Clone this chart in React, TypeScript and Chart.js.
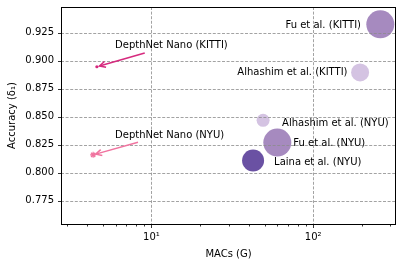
import React, { useEffect, useRef } from 'react';
import { Chart, registerables } from 'chart.js';

Chart.register(...registerables);

// ---- data ----
const modelLabels = ['Fu et al. (KITTI)', 'Alhashim et al. (KITTI)', 'Alhashim et al. (NYU)', 'Fu et al. (NYU)', 'Laina et al. (NYU)'];
const modelMacs = [260, 195, 49, 60, 42.5];
const modelAcc = [0.9325, 0.8895, 0.8467, 0.8268, 0.8107];
const modelSize = [14, 9, 6.5, 14, 11];
const modelColors = ['#a68abf', '#d4c3e2', '#d4c3e2', '#a68abf', '#6a51a3'];

const nanoLabels = ['DepthNet Nano (KITTI)', 'DepthNet Nano (NYU)'];
const nanoMacs = [4.6, 4.36];
const nanoAcc = [0.8946, 0.8158];
const nanoArrowFromMacs = [9.09, 8.26];
const nanoArrowFromAcc = [0.9068, 0.827];
const nanoTextMacs = [5.955, 5.955];
const nanoTextAcc = [0.9137, 0.8331];
const nanoColors = ['#d62a7e', '#f0739f'];

const xMajorTicks = [10, 100];
const xMinorTicks = [3, 4, 5, 6, 7, 8, 9, 20, 30, 40, 50, 60, 70, 80, 90, 200, 300];
const xTickLabels: Record<number, string> = { 10: '10\u00b9', 100: '10\u00b2' };
const yTicks = [0.775, 0.8, 0.825, 0.85, 0.875, 0.9, 0.925];

// label placement (pixels relative to point)
const labelAlign: CanvasTextAlign[] = ['right', 'right', 'left', 'left', 'left'];
const labelDx = [-19.3, -12.6, 19, 16, 21];
const labelDy = [1, 0.3, 3, 1, 2];

const FONT = '10px "DejaVu Sans"';

const overlay = {
  id: 'overlay',
  afterDatasetsDraw(chart: any) {
    const { ctx, chartArea, scales } = chart;
    const { left, right, top, bottom } = chartArea;
    const x = scales.x;
    const y = scales.y;
    ctx.save();
    // grid (drawn over markers like matplotlib)
    ctx.strokeStyle = '#8c8c8c';
    ctx.lineWidth = 0.8;
    ctx.setLineDash([3, 1.6]);
    xMajorTicks.forEach((v) => {
      const px = Math.round(x.getPixelForValue(v)) + 0.5;
      ctx.beginPath();
      ctx.moveTo(px, top);
      ctx.lineTo(px, bottom);
      ctx.stroke();
    });
    yTicks.forEach((v) => {
      const py = Math.round(y.getPixelForValue(v)) + 0.5;
      ctx.beginPath();
      ctx.moveTo(left, py);
      ctx.lineTo(right, py);
      ctx.stroke();
    });
    ctx.setLineDash([]);

    // arrows
    nanoLabels.forEach((_, i) => {
      const x0 = x.getPixelForValue(nanoArrowFromMacs[i]);
      const y0 = y.getPixelForValue(nanoArrowFromAcc[i]);
      const px = x.getPixelForValue(nanoMacs[i]);
      const py = y.getPixelForValue(nanoAcc[i]);
      const ang = Math.atan2(py - y0, px - x0);
      const x1 = px - Math.cos(ang) * 2.7;
      const y1 = py - Math.sin(ang) * 2.7;
      ctx.strokeStyle = nanoColors[i];
      ctx.lineWidth = 1.5;
      ctx.beginPath();
      ctx.moveTo(x0, y0);
      ctx.lineTo(x1, y1);
      ctx.stroke();
      const hl = 6, hw = 3;
      const bx = x1 - Math.cos(ang) * hl;
      const by = y1 - Math.sin(ang) * hl;
      ctx.beginPath();
      ctx.moveTo(bx - Math.sin(ang) * hw, by + Math.cos(ang) * hw);
      ctx.lineTo(x1, y1);
      ctx.lineTo(bx + Math.sin(ang) * hw, by - Math.cos(ang) * hw);
      ctx.stroke();
    });

    // labels
    ctx.fillStyle = '#000';
    ctx.font = FONT;
    ctx.textBaseline = 'middle';
    modelLabels.forEach((t, i) => {
      ctx.textAlign = labelAlign[i];
      ctx.fillText(t, x.getPixelForValue(modelMacs[i]) + labelDx[i], y.getPixelForValue(modelAcc[i]) + labelDy[i]);
    });
    ctx.textAlign = 'left';
    nanoLabels.forEach((t, i) => {
      ctx.fillText(t, x.getPixelForValue(nanoTextMacs[i]), y.getPixelForValue(nanoTextAcc[i]));
    });

    // spines
    ctx.strokeStyle = '#000';
    ctx.lineWidth = 1;
    ctx.strokeRect(Math.round(left) + 0.5, Math.round(top) + 0.5, Math.round(right - left) - 1, Math.round(bottom - top));

    // ticks
    ctx.lineWidth = 0.8;
    const ab = Math.round(bottom) + 0.5;
    [...xMajorTicks, ...xMinorTicks].forEach((v) => {
      const px = Math.round(x.getPixelForValue(v)) + 0.5;
      const len = xMajorTicks.includes(v) ? 3.5 : 2;
      ctx.beginPath();
      ctx.moveTo(px, ab);
      ctx.lineTo(px, ab + len);
      ctx.stroke();
    });
    const al = Math.round(left) + 0.5;
    yTicks.forEach((v) => {
      const py = Math.round(y.getPixelForValue(v)) + 0.5;
      ctx.beginPath();
      ctx.moveTo(al, py);
      ctx.lineTo(al - 3.5, py);
      ctx.stroke();
    });

    // axis titles
    ctx.textAlign = 'center';
    ctx.textBaseline = 'middle';
    ctx.fillText('MACs (G)', (left + right) / 2, 254);
    ctx.save();
    ctx.translate(12.5, (top + bottom) / 2);
    ctx.rotate(-Math.PI / 2);
    ctx.fillText('Accuracy (\u03b4\u2081)', 0, 0);
    ctx.restore();
    ctx.restore();
  },
};

export default function App() {
  const ref = useRef<HTMLCanvasElement>(null);
  useEffect(() => {
    document.body.style.margin = '0';
    const datasets: any[] = modelLabels.map((l, i) => ({
      label: l,
      data: [{ x: modelMacs[i], y: modelAcc[i] }],
      pointRadius: modelSize[i],
      pointBackgroundColor: modelColors[i],
      pointBorderWidth: 0,
      pointBorderColor: modelColors[i],
    }));
    datasets.push({
      label: nanoLabels[0],
      data: [{ x: nanoMacs[0], y: nanoAcc[0] }],
      pointRadius: 1.6,
      pointStyle: 'circle',
      pointBackgroundColor: nanoColors[0],
      pointBorderColor: nanoColors[0],
      pointBorderWidth: 0,
    });
    datasets.push({
      label: nanoLabels[1],
      data: [{ x: nanoMacs[1], y: nanoAcc[1] }],
      pointRadius: 3,
      pointStyle: 'star',
      pointBackgroundColor: nanoColors[1],
      pointBorderColor: nanoColors[1],
      pointBorderWidth: 1.2,
    });
    const chart = new Chart(ref.current!, {
      type: 'scatter',
      data: { datasets },
      plugins: [overlay],
      options: {
        animation: false,
        responsive: false,
        devicePixelRatio: 1,
        layout: { autoPadding: false, padding: { top: 7, right: 6, left: 0, bottom: 0 } },
        plugins: { legend: { display: false }, tooltip: { enabled: false } },
        events: [],
        scales: {
          x: {
            type: 'logarithmic',
            min: 2.76,
            max: 325,
            grid: { display: false, drawTicks: false },
            border: { display: false },
            afterBuildTicks: (s: any) => {
              s.ticks = [...xMajorTicks, ...xMinorTicks].sort((a, b) => a - b).map((v) => ({ value: v }));
            },
            afterFit: (s: any) => {
              s.height = 42;
              s.paddingLeft = 0;
              s.paddingRight = 0;
            },
            ticks: {
              autoSkip: false,
              maxRotation: 0,
              minRotation: 0,
              padding: 7,
              color: '#000',
              font: { family: 'DejaVu Sans', size: 10 },
              callback: (v: any) => xTickLabels[v as number] ?? '',
            },
          },
          y: {
            min: 0.754,
            max: 0.948,
            grid: { display: false, drawTicks: false },
            border: { display: false },
            afterBuildTicks: (s: any) => {
              s.ticks = yTicks.map((v) => ({ value: v }));
            },
            afterFit: (s: any) => {
              s.width = 61;
              s.paddingTop = 0;
              s.paddingBottom = 0;
            },
            ticks: {
              padding: 7,
              color: '#000',
              font: { family: 'DejaVu Sans', size: 10 },
              callback: (v: any) => Number(v).toFixed(3),
            },
          },
        },
      } as any,
    });
    return () => chart.destroy();
  }, []);
  return (
    <div style={{ position: 'absolute', left: 0, top: 0, width: 402, height: 266 }}>
      <canvas ref={ref} width={402} height={266} />
    </div>
  );
}
